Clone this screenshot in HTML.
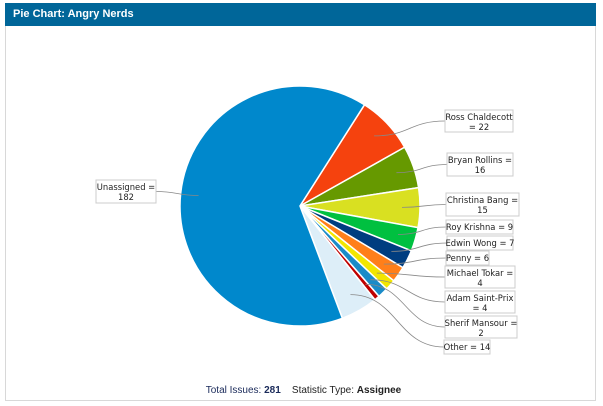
<!DOCTYPE html>
<html><head><meta charset="utf-8"><style>
body{margin:0;width:603px;height:406px;background:#fff;overflow:hidden;font-family:"Liberation Sans",sans-serif}
.frame{position:absolute;left:5px;top:3px;width:591px;height:398px;border:1px solid #d8d8d8;border-top:none;box-sizing:border-box}
.hdr{position:absolute;left:5px;top:3px;width:591px;height:23px;background:#006699;color:#fff;font-weight:bold;font-size:11px;line-height:23px;padding-left:8px;box-sizing:border-box}
.foot{position:absolute;top:385px;left:2px;width:603px;text-align:center;font-size:10px;color:#222}
svg{position:absolute;left:0;top:0}
</style></head><body>
<div class="frame"></div>
<div class="hdr">Pie Chart: Angry Nerds</div>
<svg id="s" width="603" height="406" font-family="DejaVu Sans, sans-serif" font-size="8.4"></svg>
<div class="foot"><span style="color:#1a2a5a">Total Issues: <b>281</b></span>&nbsp;&nbsp;&nbsp;&nbsp;Statistic Type: <b>Assignee</b></div>
<script>
var d=[[22,"#f5420e"],[16,"#669900"],[15,"#d9e021"],[9,"#00c040"],[7,"#003d80"],[6,"#ff7f1a"],[4,"#f2e600"],[4,"#1a8bc8"],[2,"#c00000"],[14,"#ddeef8"],[182,"#0088cc"]];
var cx=300,cy=206,r=120,a=32.5,h="",T=281;
function p(ang,rr){var t=(ang-90)*Math.PI/180;return[cx+rr*Math.cos(t),cy+rr*Math.sin(t)];}
var mids=[];
d.forEach(function(s){var sw=s[0]/T*360,b=a+sw,p1=p(a,r),p2=p(b,r);
h+='<path d="M'+cx+','+cy+'L'+p1[0]+','+p1[1]+'A'+r+','+r+' 0 '+(sw>180?1:0)+' 1 '+p2[0]+','+p2[1]+'Z" fill="'+s[1]+'" stroke="#fff" stroke-width="1.5"/>';
mids.push(p(a+sw/2,r*0.85));a=b;});
var L=[[445,110,68,22,["Ross Chaldecott","= 22"]],[447,153,66,23,["Bryan Rollins =","16"]],[446,193,73,23,["Christina Bang =","15"]],[446,220,67,14,["Roy Krishna = 9"]],[447,236,66,14,["Edwin Wong = 7"]],[446,251,43,14,["Penny = 6"]],[445,266,70,22,["Michael Tokar =","4"]],[445,291,70,22,["Adam Saint-Prix","= 4"]],[445,316,72,22,["Sherif Mansour =","2"]],[444,340,46,14,["Other = 14"]],[96,180,60,23,["Unassigned =","182"]]];
L.forEach(function(l,i){var m=mids[i],lx=i==10?l[0]+l[2]:l[0],ly=l[1]+l[3]/2;
var mx=(m[0]+lx)/2;
h+='<path d="M'+m[0]+','+m[1]+'C'+mx+','+m[1]+' '+mx+','+ly+' '+lx+','+ly+'" fill="none" stroke="#888" stroke-width="0.8"/>';
h+='<rect x="'+l[0]+'" y="'+l[1]+'" width="'+l[2]+'" height="'+l[3]+'" fill="#fff" stroke="#ccc"/>';
l[4].forEach(function(t,j){h+='<text x="'+(l[0]+l[2]/2)+'" y="'+(l[1]+10+j*10)+'" text-anchor="middle" fill="#222">'+t+'</text>';});});
document.getElementById("s").innerHTML=h;
</script>
</body></html>
